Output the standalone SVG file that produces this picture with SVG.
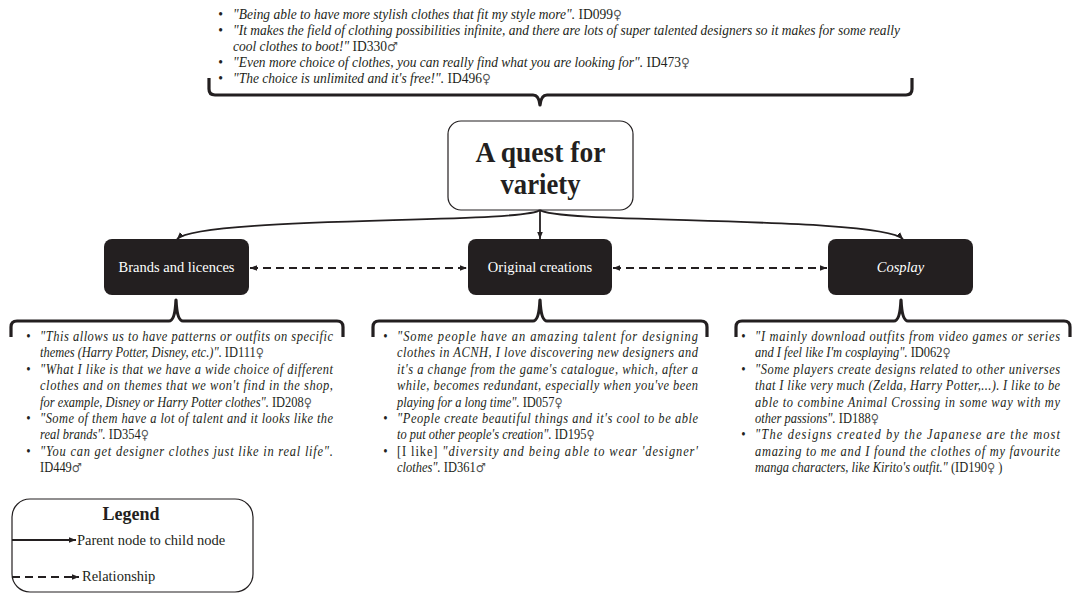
<svg xmlns="http://www.w3.org/2000/svg" width="1074" height="595" viewBox="0 0 1074 595">
<style>
.q{font-family:"Liberation Serif","Times New Roman",serif;font-size:14.5px;font-style:italic;fill:#231f20}
.r{font-style:normal}
.g{font-style:normal;font-family:"DejaVu Sans",sans-serif;font-size:13px;fill:#555}
.b{font-family:"Liberation Serif","Times New Roman",serif;font-size:14.5px;fill:#231f20}
.brace{fill:none;stroke:#231f20;stroke-width:3.2;stroke-linejoin:round}
.conn{fill:none;stroke:#231f20;stroke-width:1.8}
.dash{fill:none;stroke:#231f20;stroke-width:2;stroke-dasharray:8 5}
.child{fill:#231f20}
.ct{font-family:"Liberation Serif","Times New Roman",serif;font-size:14.5px;fill:#fff;text-anchor:middle}
.mt{font-family:"Liberation Serif","Times New Roman",serif;font-weight:bold;font-size:29px;fill:#231f20;text-anchor:middle}
</style>
<defs>
<marker id="ah" viewBox="0 0 10 10" refX="10" refY="5" markerWidth="7" markerHeight="7" markerUnits="userSpaceOnUse" orient="auto-start-reverse"><path d="M0,1 L10,5 L0,9 z" fill="#231f20"/></marker>
</defs>

<!-- top quotes -->
<g id="top-quotes">
<g transform="translate(233,0) scale(0.93,1)">
<text class="b" x="-16" y="19">•</text>
<text class="q" x="0" y="19">"Being able to have more stylish clothes that fit my style more". <tspan class="r">ID099</tspan><tspan class="g">♀</tspan></text>
<text class="b" x="-16" y="35">•</text>
<text class="q" x="0" y="35">"It makes the field of clothing possibilities infinite, and there are lots of super talented designers so it makes for some really</text>
<text class="q" x="0" y="51">cool clothes to boot!" <tspan class="r">ID330</tspan><tspan class="g">♂</tspan></text>
<text class="b" x="-16" y="67">•</text>
<text class="q" x="0" y="67">"Even more choice of clothes, you can really find what you are looking for". <tspan class="r">ID473</tspan><tspan class="g">♀</tspan></text>
<text class="b" x="-16" y="83">•</text>
<text class="q" x="0" y="83">"The choice is unlimited and it's free!". <tspan class="r">ID496</tspan><tspan class="g">♀</tspan></text>
</g>
<path class="brace" d="M209,78 V89 Q209,95 215,95 H533 Q539,95 540,105 Q541,95 547,95 H906 Q912,95 912,89 V78"/>
</g>

<!-- main node -->
<g id="main">
<rect x="448" y="121" width="185" height="89" rx="13" fill="#fff" stroke="#231f20" stroke-width="1.2"/>
<text class="mt" x="540.5" y="162" textLength="130" lengthAdjust="spacingAndGlyphs">A quest for</text>
<text class="mt" x="540.5" y="194" textLength="80" lengthAdjust="spacingAndGlyphs">variety</text>
</g>

<!-- child nodes -->
<g id="brands">
<rect class="child" x="104" y="239" width="145" height="56" rx="8"/>
<text class="ct" x="176.5" y="272">Brands and licences</text>
</g>
<g id="original">
<rect class="child" x="468" y="239" width="144" height="56" rx="8"/>
<text class="ct" x="540" y="272">Original creations</text>
</g>
<g id="cosplay">
<rect class="child" x="828" y="239" width="145" height="56" rx="8"/>
<text class="ct" x="900.5" y="272" font-style="italic">Cosplay</text>
</g>

<!-- connectors -->
<g id="connectors">
<path class="conn" d="M540,210 C525,224 200,216 177,239" marker-end="url(#ah)"/>
<path class="conn" d="M540,210 V239" marker-end="url(#ah)"/>
<path class="conn" d="M540,210 C555,224 880,216 903,239" marker-end="url(#ah)"/>
<path class="dash" d="M250,268 H467" marker-start="url(#ah)" marker-end="url(#ah)"/>
<path class="dash" d="M613,268 H827" marker-start="url(#ah)" marker-end="url(#ah)"/>
</g>

<!-- left quotes -->
<g id="brands-quotes">
<path class="brace" d="M11,337 V327 Q11,321 17,321 H169 Q175,321 176,300 Q177,321 183,321 H337 Q343,321 343,327 V337"/>
<g transform="translate(40,0) scale(0.86,1)">
<text class="b" x="-16" y="341">•</text>
<text class="q" x="0" y="341" textLength="340.7" lengthAdjust="spacing">"This allows us to have patterns or outfits on specific</text>
<text class="q" x="0" y="357.4">themes (Harry Potter, Disney, etc.)". <tspan class="r">ID111</tspan><tspan class="g">♀</tspan></text>
<text class="b" x="-16" y="373.8">•</text>
<text class="q" x="0" y="373.8" textLength="340.7" lengthAdjust="spacing">"What I like is that we have a wide choice of different</text>
<text class="q" x="0" y="390.2" textLength="340.7" lengthAdjust="spacing">clothes and on themes that we won't find in the shop,</text>
<text class="q" x="0" y="406.6">for example, Disney or Harry Potter clothes". <tspan class="r">ID208</tspan><tspan class="g">♀</tspan></text>
<text class="b" x="-16" y="423">•</text>
<text class="q" x="0" y="423" textLength="340.7" lengthAdjust="spacing">"Some of them have a lot of talent and it looks like the</text>
<text class="q" x="0" y="439.4">real brands". <tspan class="r">ID354</tspan><tspan class="g">♀</tspan></text>
<text class="b" x="-16" y="455.8">•</text>
<text class="q" x="0" y="455.8" textLength="340.7" lengthAdjust="spacing">"You can get designer clothes just like in real life".</text>
<text class="q r" x="0" y="472.2">ID449<tspan class="g">♂</tspan></text>
</g>
</g>

<!-- middle quotes -->
<g id="original-quotes">
<path class="brace" d="M373,337 V327 Q373,321 379,321 H533 Q539,321 540,300 Q541,321 547,321 H701 Q707,321 707,327 V337"/>
<g transform="translate(397,0) scale(0.86,1)">
<text class="b" x="-16" y="341">•</text>
<text class="q" x="0" y="341" textLength="350" lengthAdjust="spacing">"Some people have an amazing talent for designing</text>
<text class="q" x="0" y="357.4" textLength="350" lengthAdjust="spacing">clothes in ACNH, I love discovering new designers and</text>
<text class="q" x="0" y="373.8" textLength="350" lengthAdjust="spacing">it's a change from the game's catalogue, which, after a</text>
<text class="q" x="0" y="390.2" textLength="350" lengthAdjust="spacing">while, becomes redundant, especially when you've been</text>
<text class="q" x="0" y="406.6">playing for a long time". <tspan class="r">ID057</tspan><tspan class="g">♀</tspan></text>
<text class="b" x="-16" y="423">•</text>
<text class="q" x="0" y="423" textLength="350" lengthAdjust="spacing">"People create beautiful things and it's cool to be able</text>
<text class="q" x="0" y="439.4">to put other people's creation". <tspan class="r">ID195</tspan><tspan class="g">♀</tspan></text>
<text class="b" x="-16" y="455.8">•</text>
<text class="q" x="0" y="455.8" textLength="350" lengthAdjust="spacing"><tspan class="r">[I like] </tspan>"diversity and being able to wear 'designer'</text>
<text class="q" x="0" y="472.2">clothes". <tspan class="r">ID361</tspan><tspan class="g">♂</tspan></text>
</g>
</g>

<!-- right quotes -->
<g id="cosplay-quotes">
<path class="brace" d="M736,337 V327 Q736,321 742,321 H894 Q900,321 901,300 Q902,321 908,321 H1064 Q1070,321 1070,327 V337"/>
<g transform="translate(755,0) scale(0.86,1)">
<text class="b" x="-16" y="341">•</text>
<text class="q" x="0" y="341" textLength="354.7" lengthAdjust="spacing">"I mainly download outfits from video games or series</text>
<text class="q" x="0" y="357.4">and I feel like I'm cosplaying". <tspan class="r">ID062</tspan><tspan class="g">♀</tspan></text>
<text class="b" x="-16" y="373.8">•</text>
<text class="q" x="0" y="373.8" textLength="354.7" lengthAdjust="spacing">"Some players create designs related to other universes</text>
<text class="q" x="0" y="390.2" textLength="354.7" lengthAdjust="spacing">that I like very much (Zelda, Harry Potter,...). I like to be</text>
<text class="q" x="0" y="406.6" textLength="354.7" lengthAdjust="spacing">able to combine Animal Crossing in some way with my</text>
<text class="q" x="0" y="423">other passions". <tspan class="r">ID188</tspan><tspan class="g">♀</tspan></text>
<text class="b" x="-16" y="439.4">•</text>
<text class="q" x="0" y="439.4" textLength="354.7" lengthAdjust="spacing">"The designs created by the Japanese are the most</text>
<text class="q" x="0" y="455.8" textLength="354.7" lengthAdjust="spacing">amazing to me and I found the clothes of my favourite</text>
<text class="q" x="0" y="472.2">manga characters, like Kirito's outfit." <tspan class="r">(ID190</tspan><tspan class="g">♀</tspan><tspan class="r"> )</tspan></text>
</g>
</g>

<!-- legend -->
<g id="legend">
<rect x="12" y="499" width="241" height="93" rx="18" fill="#fff" stroke="#231f20" stroke-width="1.2"/>
<text x="131" y="520" text-anchor="middle" font-family="Liberation Serif, serif" font-weight="bold" font-size="18" fill="#231f20">Legend</text>
<path class="conn" d="M12,540 H76" marker-end="url(#ah)"/>
<text class="b" x="77" y="545" font-size="14">Parent node to child node</text>
<path class="dash" d="M12,577 H79" stroke-dasharray="6 3" marker-end="url(#ah)"/>
<text class="b" x="82" y="581" font-size="14">Relationship</text>
</g>
</svg>
